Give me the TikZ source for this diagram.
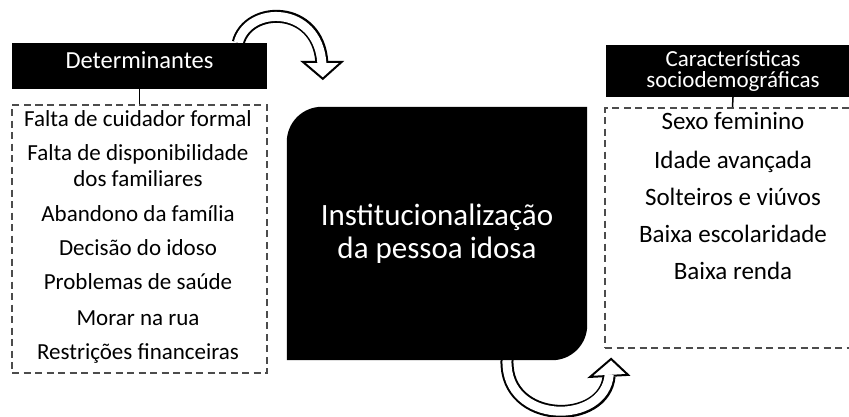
\documentclass[tikz,border=0pt]{standalone}
\usepackage{fontspec}
\setmainfont{Carlito}
\usetikzlibrary{calc,positioning}
\pgfdeclarelayer{back}
\pgfsetlayers{back,main}

\tikzset{
  headbox/.style={fill=black,text=white,align=center,inner sep=0pt},
  dashbox/.style={draw=black!70,line width=1.8pt,dash pattern=on 7pt off 4.5pt,inner sep=0pt},
  item/.style={anchor=base,align=center,font=\fontsize{23}{26}\selectfont},
  ritem/.style={anchor=base,align=center,font=\fontsize{25}{28}\selectfont},
  walls/.style={line width=13pt,black},
  hollow/.style={line width=9pt,white},
  tip/.style={fill=white,draw=black,line width=2pt,line join=miter},
}

\begin{document}
\begin{tikzpicture}[x=1pt,y=-1pt]
\useasboundingbox (0,0) rectangle (849,416);

%determinantes
\node[headbox,minimum width=255pt,minimum height=46pt,text depth=12pt,
  font=\fontsize{24.5}{24}\selectfont] (det) at (139.5,66) {Determinantes};
\node[dashbox,minimum width=255pt,minimum height=268pt] (detbox) at (139.5,239) {};
\draw[line width=1.5pt] (det.south) -- (detbox.north);

\foreach \name/\y/\txt in {d1/126/Falta de cuidador formal,
    d2/186/{Falta de disponibilidade\\dos familiares},
    d3/221/Abandono da família, d4/255/Decisão do idoso,
    d5/289/Problemas de saúde, d6/325/Morar na rua,
    d7/359/Restrições financeiras}
  \node[item] (\name) at (138,\y) {\txt};

%centro
\node[text=white,align=center,font=\fontsize{31}{33}\selectfont,
  minimum width=300pt,minimum height=253pt] (inst) at (437,233.5)
  {Institucionalização\\da pessoa idosa};

%caracteristicas
\node[headbox,minimum width=254pt,minimum height=52pt,
  font=\fontsize{23}{21}\selectfont] (car) at (733,71)
  {Características\\sociodemográficas};
\node[dashbox,minimum width=255pt,minimum height=240pt] (carbox) at (732.5,228) {};
\draw[line width=1.5pt] (car.south) -- (carbox.north);

\foreach \name/\y/\txt in {c1/129/Sexo feminino, c2/168/Idade avançada,
    c3/205/Solteiros e viúvos, c4/242/Baixa escolaridade, c5/279/Baixa renda}
  \node[ritem] (\name) at (733,\y) {\txt};

\begin{pgfonlayer}{back}
%seta de cima
\coordinate (a1) at ($(det.north east)+(-29,0)$);
\coordinate (b1) at ($(inst.north west)+(35,-45)$);
\draw[walls] (a1) .. controls +(10,-38) and +(-4,-57) .. (b1);
\path[tip] ($(b1)+(-19,0)$) -- ($(b1)+(1,17)$) -- ($(b1)+(20,0)$) -- cycle;
\draw[hollow,shorten >=-1.5pt] (a1) .. controls +(10,-38) and +(-4,-57) .. (b1);

%seta de baixo
\coordinate (a2) at ($(inst.south)+(70,0)$);
\coordinate (b2) at ($(carbox.south west)+(5,27)$);
\draw[walls] (a2) .. controls +(-2,65) and +(-4,50) .. (b2);
\path[tip] ($(b2)+(-19,1)$) -- ($(b2)+(2,-17)$) -- ($(b2)+(19,-1)$) -- cycle;
\draw[hollow,shorten >=-1.5pt] (a2) .. controls +(-2,65) and +(-4,50) .. (b2);

%caixa preta
\fill (inst.south west) -- ($(inst.north west)+(0,35)$)
  .. controls ($(inst.north west)+(0,15.7)$) and ($(inst.north west)+(15.7,0)$) .. ($(inst.north west)+(35,0)$)
  -- (inst.north east) -- ($(inst.south east)+(0,-35)$)
  .. controls ($(inst.south east)+(0,-15.7)$) and ($(inst.south east)+(-15.7,0)$) .. ($(inst.south east)+(-35,0)$)
  -- cycle;
\end{pgfonlayer}

\end{tikzpicture}
\end{document}
